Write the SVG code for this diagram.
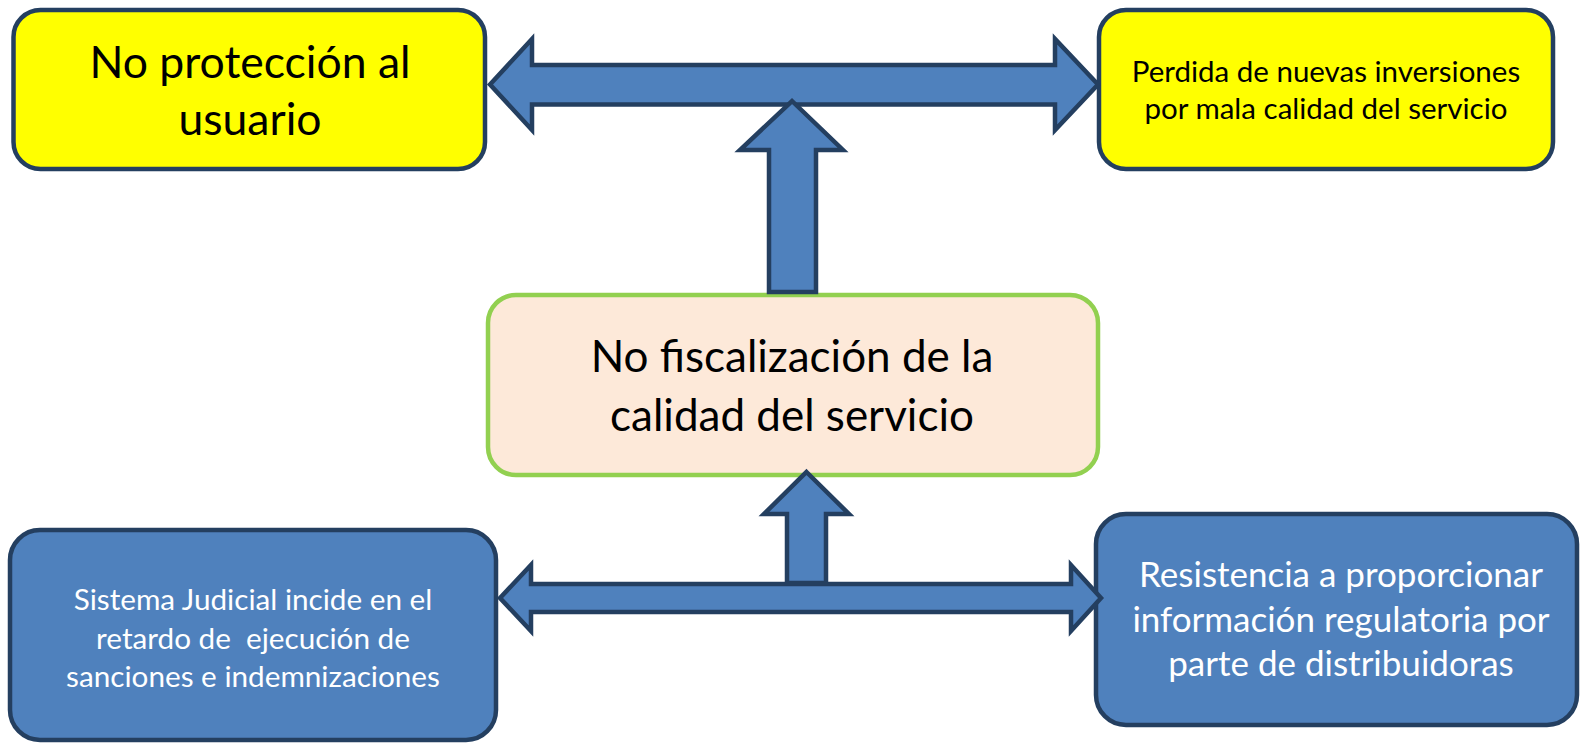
<svg xmlns="http://www.w3.org/2000/svg" width="1580" height="745" viewBox="0 0 1580 745">
<style>
.yel{fill:#FFFF00;stroke:#243F60;stroke-width:4.5}
.blu{fill:#4F81BD;stroke:#243F60;stroke-width:4.5}
.pea{fill:#FDE9D9;stroke:#92D050;stroke-width:4.5}
.arr{fill:#4F81BD;stroke:#243F60;stroke-width:4.5;stroke-linejoin:miter;stroke-miterlimit:10}
text{font-family:Lato,"Open Sans","Liberation Sans",sans-serif;text-anchor:middle}
.blk{fill:#000000}
.wht{fill:#FFFFFF}
</style>
<g id="n-proteccion">
<rect class="yel" x="13.5" y="10" width="471.5" height="159" rx="27" ry="27"/>
<text class="blk" font-size="44.5"><tspan x="250" y="77.5">No protección al</tspan><tspan x="250" y="135">usuario</tspan></text>
</g>
<g id="n-perdida">
<rect class="yel" x="1099" y="10" width="454" height="159" rx="27" ry="27"/>
<text class="blk" font-size="29.5"><tspan x="1326" y="82">Perdida de nuevas inversiones</tspan><tspan x="1326" y="119">por mala calidad del servicio</tspan></text>
</g>
<g id="n-fiscalizacion">
<rect class="pea" x="488" y="295" width="610" height="180" rx="28" ry="28"/>
<text class="blk" font-size="44"><tspan x="792" y="372">No fiscalización de la</tspan><tspan x="792" y="431">calidad del servicio</tspan></text>
</g>
<g id="n-judicial">
<rect class="blu" x="10" y="530" width="486" height="210" rx="30" ry="30"/>
<text class="wht" font-size="29.7" xml:space="preserve"><tspan x="253" y="610">Sistema Judicial incide en el</tspan><tspan x="253" y="648.5">retardo de  ejecución de</tspan><tspan x="253" y="687">sanciones e indemnizaciones</tspan></text>
</g>
<g id="n-resistencia">
<rect class="blu" x="1096" y="514" width="481" height="211" rx="30" ry="30"/>
<text class="wht" font-size="35"><tspan x="1341" y="587">Resistencia a proporcionar</tspan><tspan x="1341" y="631.5">información regulatoria por</tspan><tspan x="1341" y="676">parte de distribuidoras</tspan></text>
</g>
<g id="connectors">
<path class="arr" d="M490,84.5 L532,39 L532,65 L1055,65 L1055,39 L1098,84.5 L1055,130 L1055,104.5 L532,104.5 L532,130 Z"/>
<path class="arr" d="M792,101 L843,150 L816,150 L816,292 L769,292 L769,150 L740,150 Z"/>
<path class="arr" d="M500,598 L531,565 L531,584 L1071,584 L1071,565 L1101,598 L1071,631 L1071,612 L531,612 L531,631 Z"/>
<path class="arr" d="M806.5,472 L849,514 L826,514 L826,583 L787,583 L787,514 L764,514 Z"/>
</g>
</svg>
